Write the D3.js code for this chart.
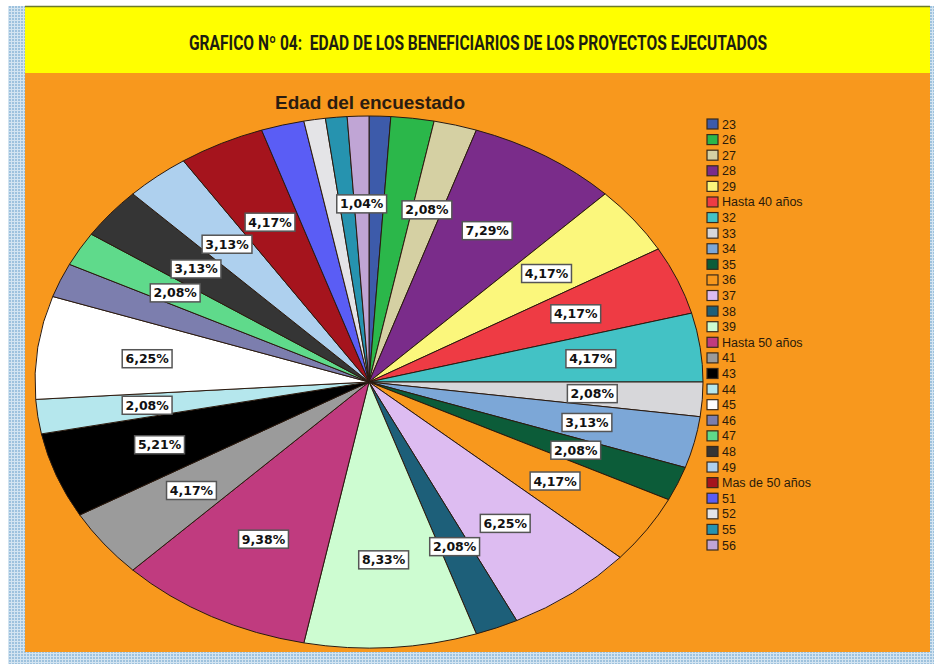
<!DOCTYPE html>
<html>
<head>
<meta charset="utf-8">
<script src="https://cdn.jsdelivr.net/npm/d3@7"></script>
<style>
  body { margin: 0; background: #fff; }
  svg { display: block; }
</style>
</head>
<body>
<svg id="chart"></svg>
<script>
// Data (96 respondents)
const categories = ["23", "26", "27", "28", "29", "Hasta 40 años", "32", "33", "34", "35", "36", "37", "38", "39",
    "Hasta 50 años", "41", "43", "44", "45", "46", "47", "48", "49", "Mas de 50 años", "51", "52", "55", "56"];
const counts = [1, 2, 2, 7, 4, 4, 4, 2, 3, 2, 4, 6, 2, 8, 9, 4, 5, 2, 6, 2, 2, 3, 3, 4, 2, 1, 1, 1];
const percents = [1.04, 2.08, 2.08, 7.29, 4.17, 4.17, 4.17, 2.08, 3.13, 2.08, 4.17, 6.25, 2.08, 8.33,
    9.38, 4.17, 5.21, 2.08, 6.25, 2.08, 2.08, 3.13, 3.13, 4.17, 2.08, 1.04, 1.04, 1.04];
// labels SPSS left out because they overlapped
const hiddenLabels = ["23", "26", "46", "51", "52", "55"];

const mainTitle = "GRAFICO Nº 04:  EDAD DE LOS BENEFICIARIOS DE LOS PROYECTOS EJECUTADOS";
const chartTitle = "Edad del encuestado";

// SPSS default palette
const palette = ["#3d5baa", "#2bb74a", "#d5d0a3", "#7a2c8a", "#fbf77c", "#ee3b44", "#43c2c5", "#d7d7da",
    "#7ca7d7", "#0c5c39", "#f8981d", "#ddbcf1", "#1d5f79", "#cdfcd1", "#c03b7f", "#9b9b9b", "#000000",
    "#b5e7ed", "#ffffff", "#7c7eae", "#5fda8b", "#353535", "#aed0ee", "#a5141d", "#5a5df5", "#e4e4e7",
    "#2693af", "#c0a5d5"];

const W = 934, H = 664;
const svg = d3.select("#chart").attr("width", W).attr("height", H);

// dotted blue frame
const defs = svg.append("defs");
const pat = defs.append("pattern").attr("id", "dots")
    .attr("width", 3).attr("height", 3).attr("patternUnits", "userSpaceOnUse");
pat.append("rect").attr("width", 3).attr("height", 3).attr("fill", "#d3e4f1");
pat.append("rect").attr("width", 2).attr("height", 2).attr("fill", "#9ec2de");

svg.append("rect").attr("x", 8).attr("y", 6).attr("width", W - 8).attr("height", H - 6).attr("fill", "url(#dots)");

// yellow header band
svg.append("rect").attr("x", 25).attr("y", 6).attr("width", 905).attr("height", 67).attr("fill", "#ffff00");
svg.append("line").attr("x1", 25).attr("x2", 930).attr("y1", 6.5).attr("y2", 6.5)
    .attr("stroke", "#6b7a2a").attr("stroke-width", 1.5);
svg.append("text")
    .attr("x", 478).attr("y", 50)
    .attr("text-anchor", "middle")
    .attr("font-family", "'Liberation Sans Narrow', 'Arial Narrow', 'Roboto', sans-serif")
    .attr("font-weight", "bold")
    .attr("font-size", 20)
    .attr("fill", "#1d1d10")
    .attr("textLength", 578)
    .attr("lengthAdjust", "spacingAndGlyphs")
    .style("white-space", "pre")
    .text(mainTitle);

// orange chart area
svg.append("rect").attr("x", 25).attr("y", 73).attr("width", 905).attr("height", 579).attr("fill", "#f8981d");

svg.append("text")
    .attr("x", 370).attr("y", 109)
    .attr("text-anchor", "middle")
    .attr("font-family", "'Liberation Sans', Arial, sans-serif")
    .attr("font-weight", "bold")
    .attr("font-size", 19)
    .attr("fill", "#2a1c10")
    .text(chartTitle);

// Pie (a circle squashed to an ellipse, like the SPSS chart)
const cx = 369, cy = 382, rx = 334, ry = 266;
const data = categories.map((c, i) => ({ cat: c, value: counts[i], pct: percents[i], color: palette[i] }));

const pie = d3.pie().sort(null).value(d => d.value).startAngle(0).endAngle(2 * Math.PI);
const arcs = pie(data);
const arc = d3.arc().innerRadius(0).outerRadius(rx);

const pieG = svg.append("g")
    .attr("transform", `translate(${cx},${cy}) scale(1,${ry / rx})`);

pieG.selectAll("path")
    .data(arcs)
    .enter()
    .append("path")
    .attr("d", arc)
    .attr("fill", d => d.data.color)
    .attr("stroke", "#2a1a10")
    .attr("stroke-width", 1)
    .attr("vector-effect", "non-scaling-stroke");

// ellipse mapping for label positions
const ex = d3.scaleLinear().domain([-1, 1]).range([cx - rx, cx + rx]);
const ey = d3.scaleLinear().domain([-1, 1]).range([cy - ry, cy + ry]);

const fmt = v => v.toFixed(2).replace(".", ",") + "%";
const labelG = svg.append("g");
const placed = [];

arcs.filter(d => !hiddenLabels.includes(d.data.cat)).forEach(d => {
    const mid = (d.startAngle + d.endAngle) / 2;
    const g = labelG.append("g");
    const t = g.append("text")
        .attr("text-anchor", "middle")
        .attr("dy", "0.36em")
        .attr("font-family", "'DejaVu Sans', Verdana, sans-serif")
        .attr("font-weight", "bold")
        .attr("font-size", 12.5)
        .attr("fill", "#111")
        .text(fmt(d.data.pct));
    const bb = t.node().getBBox();
    const bw = bb.width + 6, bh = 18;

    // push outward while overlapping an earlier label
    let f = 0.67, x, y;
    for (; f < 0.86; f += 0.02) {
        x = ex(f * Math.sin(mid));
        y = ey(-f * Math.cos(mid));
        const hit = placed.some(p => Math.abs(p.x - x) < (p.w + bw) / 2 && Math.abs(p.y - y) < (p.h + bh) / 2);
        if (!hit) break;
    }
    placed.push({ x, y, w: bw, h: bh });

    g.attr("transform", `translate(${x},${y})`);
    g.insert("rect", "text")
        .attr("x", -bw / 2).attr("y", -bh / 2)
        .attr("width", bw).attr("height", bh)
        .attr("fill", "#fff")
        .attr("stroke", "#555")
        .attr("stroke-width", 1.5);
});

// Legend
const legY = d3.scaleLinear().domain([0, categories.length - 1]).range([119, 540]);
const leg = svg.append("g").selectAll("g")
    .data(data)
    .enter()
    .append("g")
    .attr("transform", (d, i) => `translate(707,${legY(i)})`);

leg.append("rect")
    .attr("width", 11).attr("height", 10)
    .attr("fill", d => d.color)
    .attr("stroke", "#3a2a1a")
    .attr("stroke-width", 1.2);

leg.append("text")
    .attr("x", 15).attr("y", 9.5)
    .attr("font-family", "'Liberation Sans', Arial, sans-serif")
    .attr("font-size", 12.5)
    .attr("fill", "#2a1a0a")
    .text(d => d.cat);
</script>
</body>
</html>
